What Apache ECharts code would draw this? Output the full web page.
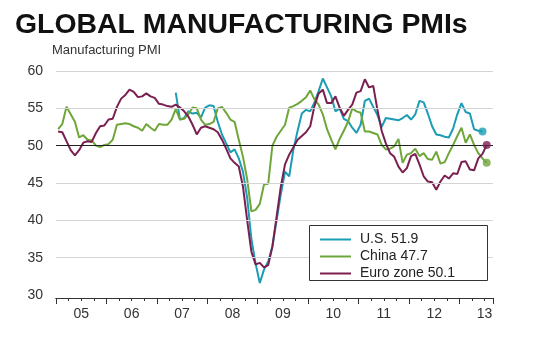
<!DOCTYPE html>
<html>
<head>
<meta charset="utf-8">
<script src="https://cdn.jsdelivr.net/npm/echarts@6/dist/echarts.min.js"></script>
<style>html,body{margin:0;padding:0;background:#fff}#c{width:550px;height:344px}</style>
</head>
<body>
<div id="c"></div>
<script>
// Months counted from Jan 2005 (index 0)
const yearLabels = ['05','06','07','08','09','10','11','12','13'];
const seriesNames = ['U.S. 51.9', 'China 47.7', 'Euro zone 50.1'];
const usStartMonth = 28;   // May 2007
const chinaStartMonth = 0; // Jan 2005
const euroStartMonth = 0;  // Jan 2005

const usValues = [
  57.1,53.5,53.7,54.6,54.3,54.4,53.8,55.1,55.4,55.3,53.2,51.5,50.3,49.1,49.5,48.3,46.5,43.0,37.5,34.2,
  31.6,33.4,34.5,36.5,40.0,43.5,46.5,45.9,49.5,52.0,54.3,54.8,54.6,55.8,57.3,59.0,57.8,56.6,54.6,55.0,
  53.6,53.3,52.4,51.7,52.8,56.0,56.3,55.2,54.1,52.5,53.7,53.6,53.5,53.4,53.7,54.1,53.5,54.2,56.0,55.8,
  54.3,52.6,51.5,51.4,51.2,51.1,52.3,54.2,55.7,54.5,54.3,52.2,52.0,51.9
];
const chinaValues = [
  52.2,52.9,55.2,54.2,53.2,51.1,51.4,50.8,50.7,50.0,49.8,50.1,50.2,50.8,52.8,52.9,53.0,52.9,52.6,52.4,
  52.0,52.9,52.4,52.0,52.9,52.8,52.8,53.5,54.9,53.5,53.6,54.2,55.1,55.0,53.5,52.8,52.9,53.2,55.0,55.2,
  54.4,53.5,53.2,50.8,48.5,45.5,41.2,41.4,42.2,44.8,44.9,50.0,51.2,52.0,52.8,55.1,55.3,55.6,56.0,56.5,
  57.4,56.2,55.5,54.2,52.2,50.8,49.5,50.9,52.0,53.2,55.0,54.6,54.4,51.9,51.9,51.7,51.5,50.1,49.5,49.6,
  49.9,50.9,47.7,48.8,49.0,49.6,48.6,49.0,48.2,48.1,49.2,47.6,47.8,49.0,50.1,51.3,52.4,50.4,51.5,50.1,
  49.0,48.3,47.7
];
const euroValues = [
  51.9,51.8,50.6,49.4,48.7,49.4,50.4,50.6,50.5,51.7,52.6,52.7,53.5,53.6,55.2,56.3,56.8,57.5,57.2,56.5,
  56.6,57.0,56.6,56.4,55.6,55.5,55.3,55.2,55.5,55.1,54.6,53.9,52.8,51.5,52.4,52.6,52.4,52.2,51.8,50.8,
  49.6,48.3,47.7,47.2,44.5,40.0,35.8,34.1,34.3,33.7,34.0,36.5,40.5,44.5,47.5,48.8,49.8,50.8,51.3,51.8,
  52.6,55.3,57.0,57.5,55.7,55.7,56.6,55.1,54.0,54.8,55.5,57.1,57.3,58.9,57.8,58.0,54.8,52.0,50.3,49.0,
  48.5,47.2,46.4,47.0,48.6,48.9,47.5,45.9,45.2,45.1,44.1,45.2,46.0,45.6,46.3,46.2,47.8,47.9,46.8,46.7,
  48.3,48.9,50.1
];
const colors = ['#1b9db5', '#6fa63a', '#7a1f50'];

const toData = (vals, start) => vals.map((v, i) => [start + i + 0.5, v]);
const lastPoint = (vals, start) => [[start + vals.length - 0.5, vals[vals.length - 1]]];

const labelPos = yearLabels.map((_, i) => i * 12 + 6);

const FONT = '"Liberation Sans", Arial, sans-serif';

const chart = echarts.init(document.getElementById('c'), null, {renderer: 'canvas'});
const lineSeries = (name, vals, start, color, z) => ({
  name, type: 'line', data: toData(vals, start), symbol: 'none', showSymbol: false,
  lineStyle: {color, width: 2}, itemStyle: {color}, z, silent: true, animation: false
});
const dotSeries = (vals, start, color, z) => ({
  type: 'scatter', data: lastPoint(vals, start), symbol: 'circle', symbolSize: 8,
  itemStyle: {color, borderColor: color, borderWidth: 0}, z, silent: true, animation: false
});

chart.setOption({
  animation: false,
  backgroundColor: '#fff',
  title: [
    {text: 'GLOBAL MANUFACTURING PMIs', left: 15, top: 11, padding: 0,
     textStyle: {fontFamily: FONT, fontSize: 28.4, fontWeight: 'bold', color: '#111'}},
    {text: 'Manufacturing PMI', left: 52, top: 44, padding: 0,
     textStyle: {fontFamily: FONT, fontSize: 13, fontWeight: 'normal', color: '#333'}}
  ],
  grid: {left: 56, right: 57, top: 71, bottom: 49},
  xAxis: [
    {type: 'value', min: 0, max: 104, interval: 12, position: 'bottom', offset: 3,
     axisLine: {show: true, onZero: false, lineStyle: {color: '#333', width: 1}},
     axisTick: {show: true, length: 6, lineStyle: {color: '#333'}},
     axisLabel: {show: true, customValues: labelPos, margin: 9,
       formatter: v => yearLabels[Math.round((v - 6) / 12)] || '',
       fontFamily: FONT, fontSize: 14, color: '#333'},
     splitLine: {show: false}},
    {type: 'value', min: 0, max: 104, interval: 3, position: 'bottom', offset: 3,
     axisLine: {show: true, onZero: false, lineStyle: {color: '#333', width: 1}},
     axisTick: {show: true, length: 3, lineStyle: {color: '#333'}},
     axisLabel: {show: false}, splitLine: {show: false}}
  ],
  yAxis: {
    type: 'value', min: 30, max: 60, interval: 5,
    axisLine: {show: false}, axisTick: {show: false}, splitLine: {show: false},
    axisLabel: {fontFamily: FONT, fontSize: 14, color: '#333', margin: 13}
  },
  legend: {
    orient: 'vertical', left: 315, top: 227, itemWidth: 31, itemHeight: 2, itemGap: 2,
    icon: 'rect', z: 10, selectedMode: false,
    data: seriesNames,
    textStyle: {fontFamily: FONT, fontSize: 14, color: '#222', lineHeight: 15, padding: [0, 0, 0, 4]}
  },
  graphic: [{
    type: 'rect', z: 9, shape: {x: 309.5, y: 225.5, width: 178, height: 55},
    style: {fill: '#fff', stroke: '#333', lineWidth: 1}, silent: true
  }],
  series: [
    {type: 'line', data: [], z: 1, silent: true,
     markLine: {silent: true, symbol: 'none', label: {show: false}, animation: false,
       data: [
         {yAxis: 35, lineStyle: {color: '#d4d4d4', width: 1, type: 'solid'}},
         {yAxis: 40, lineStyle: {color: '#d4d4d4', width: 1, type: 'solid'}},
         {yAxis: 45, lineStyle: {color: '#d4d4d4', width: 1, type: 'solid'}},
         {yAxis: 55, lineStyle: {color: '#d4d4d4', width: 1, type: 'solid'}},
         {yAxis: 60, lineStyle: {color: '#d4d4d4', width: 1, type: 'solid'}},
         {yAxis: 50, lineStyle: {color: '#222', width: 1.2, type: 'solid'}}
       ]}},
    lineSeries(seriesNames[0], usValues, usStartMonth, colors[0], 3),
    lineSeries(seriesNames[1], chinaValues, chinaStartMonth, colors[1], 3),
    lineSeries(seriesNames[2], euroValues, euroStartMonth, colors[2], 4),
    dotSeries(usValues, usStartMonth, colors[0], 5),
    dotSeries(chinaValues, chinaStartMonth, colors[1], 5),
    dotSeries(euroValues, euroStartMonth, colors[2], 5)
  ]
});
</script>
</body>
</html>
